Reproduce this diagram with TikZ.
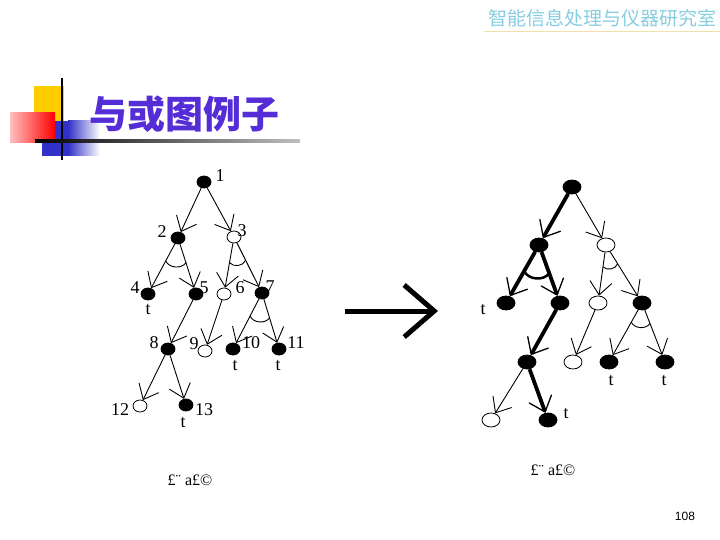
\documentclass[tikz,border=0pt]{standalone}
\usepackage{fontspec}
\setmainfont{Liberation Serif}
\setsansfont{Liberation Sans}
\newfontfamily\cjkfont{Noto Sans CJK SC}
\usetikzlibrary{shapes.geometric,arrows.meta,calc}
\definecolor{titleblue}{RGB}{85,45,215}
\definecolor{headcyan}{RGB}{135,205,225}
\definecolor{headline}{RGB}{240,225,170}
\definecolor{boxyellow}{RGB}{255,204,0}
\definecolor{boxblue}{RGB}{50,50,200}
\tikzset{
  full/.style={ellipse, draw, line width=0.8pt, fill=black, minimum width=14pt, minimum height=12pt, inner sep=0pt},
  hollow/.style={ellipse, draw, line width=0.8pt, fill=white, minimum width=14pt, minimum height=12pt, inner sep=0pt},
  link/.style={-{Straight Barb[length=13pt 0,width=22pt 0,line width=0.9pt]}, line width=0.9pt},
  boldlink/.style={-{Straight Barb[length=14pt 0,width=24pt 0,line width=1.3pt]}, line width=3.8pt},
  num/.style={font=\fontsize{18}{18}\selectfont, inner sep=0pt},
}
\begin{document}
\begin{tikzpicture}[x=1pt, y=-1pt]
        \useasboundingbox (0,0) rectangle (720,540);

        % header and title
        \node[text=headcyan, font=\cjkfont\fontsize{19}{19}\selectfont, inner sep=0pt] (head) at (602,18) {智能信息处理与仪器研究室};
        \draw[headline, line width=0.8pt] (484,31) -- (720,31);
        \fill[boxyellow] (34,86) rectangle (64,121);
        \fill[boxblue] (42,121) rectangle (68,156);
        \shade[left color=boxblue, right color=white] (68,121) rectangle (100,156);
        \shade[left color=red!25, right color=red] (10,113) rectangle (55,143);
        \draw[line width=2.5pt] (62,78) -- (62,160);
        \shade[left color=black, right color=gray!50] (35,139.8) rectangle (300,142.4);
        \node[text=titleblue, font=\cjkfont\bfseries\fontsize{38}{38}\selectfont, inner sep=0pt] (title) at (184,114) {与或图例子};

        % tree (a)
        \foreach \n/\x/\y/\s in {1/204/182/full, 2/178/238/full, 3/234/237/hollow, 4/148/294/full,
                5/196/294/full, 6/224/294/hollow, 7/262/293/full, 8/168/349/full, 9/205/351/hollow,
                10/233/349/full, 11/279/349/full, 12/140/406/hollow, 13/186/405/full} {
            \node[\s] (L\n) at (\x,\y) {};
        }
        \foreach \n/\x/\y in {1/220/176, 2/162/232, 3/242/231, 4/135/288, 5/204/288, 6/240/288, 7/270/287,
                8/154/343, 9/194/344, 10/251/343, 11/296/343, 12/120/410, 13/204/410} {
            \node[num] (l\n) at (\x,\y) {\n};
        }
        \foreach \i/\x/\y in {1/148/310, 2/235/366, 3/278/366, 4/183/423} {
            \node[num] (lt\i) at (\x,\y) {t};
        }
        \foreach \a/\b in {1/2, 1/3, 2/4, 2/5, 3/6, 3/7, 5/8, 6/9, 7/10, 7/11, 8/12, 8/13} {
            \draw[link] (L\a) -- (L\b);
        }
        \foreach \p/\c/\d in {2/4/5, 3/6/7, 7/10/11} {
            \draw[line width=0.9pt] ($(L\p)!26pt!(L\c)$) to[bend right=60] ($(L\p)!26pt!(L\d)$);
        }
        \node[font=\fontsize{16}{16}\selectfont] (capa) at (190,480) {£¨ a£©};

        % big arrow
        \coordinate (from) at (345,311);
        \coordinate (to) at (438,311);
        \draw[line width=5pt, -{Straight Barb[length=30pt 0,width=52pt 0]}] (from) -- (to);

        % tree (b)
        \begin{scope}[full/.append style={minimum width=18pt, minimum height=14pt},
                      hollow/.append style={minimum width=18pt, minimum height=14pt}]
        \foreach \n/\x/\y/\s in {1/572/187/full, 2/539/245/full, 3/606/245/hollow, 4/506/303/full,
                5/560/303/full, 6/598/303/hollow, 7/642/303/full, 8/527/362/full, 9/573/362/hollow,
                10/609/362/full, 11/665/362/full, 12/491/420/hollow, 13/548/420/full} {
            \node[\s] (R\n) at (\x,\y) {};
        }
        \end{scope}
        \foreach \i/\x/\y in {1/483/310, 2/611/381, 3/664/381, 4/566/414} {
            \node[num] (rt\i) at (\x,\y) {t};
        }
        \foreach \a/\b in {1/3, 3/6, 3/7, 6/9, 7/10, 7/11, 8/12} {
            \draw[link] (R\a) -- (R\b);
        }
        \foreach \a/\b in {1/2, 2/4, 2/5, 5/8, 8/13} {
            \draw[boldlink] (R\a) -- (R\b);
        }
        \draw[line width=2.5pt] ($(R2)!30pt!(R4)$) to[bend right=60] ($(R2)!30pt!(R5)$);
        \foreach \p/\c/\d in {3/6/7, 7/10/11} {
            \draw[line width=0.9pt] ($(R\p)!22pt!(R\c)$) to[bend right=60] ($(R\p)!22pt!(R\d)$);
        }
        \node[font=\fontsize{16}{16}\selectfont] (capb) at (553,470) {£¨ a£©};

        \node[font=\sffamily\fontsize{12}{12}\selectfont] (page) at (685,516) {108};
    \end{tikzpicture}
\end{document}
